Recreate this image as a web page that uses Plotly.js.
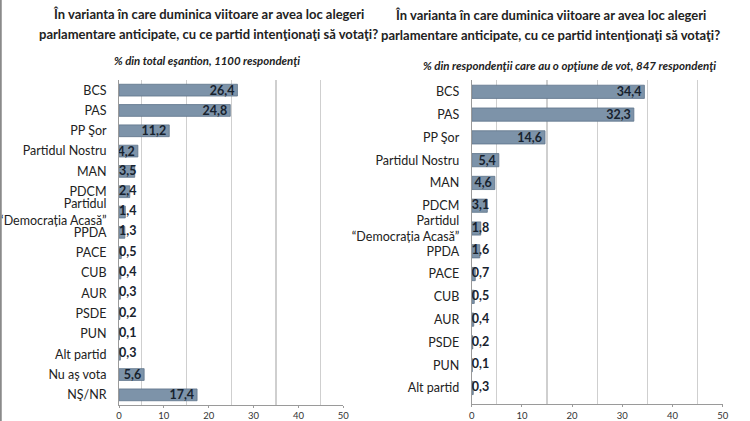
<!DOCTYPE html>
<html>
<head>
<meta charset="utf-8">
<script src="https://cdn.plot.ly/plotly-3.0.1.min.js"></script>
<style>
  html, body { margin: 0; padding: 0; background: #fff; }
  #chart { width: 750px; height: 421px; }
</style>
</head>
<body>
<div id="chart"></div>
<script>
// Data
const leftCategories = ['BCS', 'PAS', 'PP Şor', 'Partidul Nostru', 'MAN', 'PDCM',
  'Partidul<br>“Democrația Acasă”', 'PPDA', 'PACE', 'CUB', 'AUR', 'PSDE', 'PUN',
  'Alt partid', 'Nu aş vota', 'NŞ/NR'];
const leftValues = [26.4, 24.8, 11.2, 4.2, 3.5, 2.4, 1.4, 1.3, 0.5, 0.4, 0.3, 0.2, 0.1, 0.3, 5.6, 17.4];

const rightCategories = ['BCS', 'PAS', 'PP Şor', 'Partidul Nostru', 'MAN', 'PDCM',
  'Partidul<br>“Democrația Acasă”', 'PPDA', 'PACE', 'CUB', 'AUR', 'PSDE', 'PUN', 'Alt partid'];
const rightValues = [34.4, 32.3, 14.6, 5.4, 4.6, 3.1, 1.8, 1.6, 0.7, 0.5, 0.4, 0.2, 0.1, 0.3];

const xTicks = [0, 10, 20, 30, 40, 50];

const titleLines = ['În varianta în care duminica viitoare ar avea loc alegeri',
  'parlamentare anticipate, cu ce partid intenţionaţi să votaţi?'];
const leftSubtitle = '% din total eşantion, 1100 respondenţi';
const rightSubtitle = '% din respondenţii care au o opţiune de vot, 847 respondenţi';

const FONT = 'Lato, "Open Sans", sans-serif';
const BAR_COLOR = '#7d93a9';
const BAR_LINE = '#5e738a';
const TEXT_DARK = '#17222e';
const VALUE_FONT = { family: FONT, size: 12.5, color: TEXT_DARK, weight: 'bold' };
const FIT_MIN = 4;   // below this the label doesn't fit in the bar

function barTrace(cats, vals, xa, ya) {
    return {
        type: 'bar',
        orientation: 'h',
        y: cats,
        x: vals,
        xaxis: xa,
        yaxis: ya,
        marker: { color: BAR_COLOR, line: { color: BAR_LINE, width: 0.8 } },
        texttemplate: '%{x:.1f}',
        textposition: vals.map(v => v >= FIT_MIN ? 'inside' : 'none'),
        insidetextanchor: 'end',
        constraintext: 'none',
        textfont: VALUE_FONT,
        insidetextfont: VALUE_FONT,
        hoverinfo: 'skip'
    };
}

// labels of short bars start at the bar base, like in the original
function baseLabelTrace(cats, vals, xa, ya) {
    const idx = vals.map((v, i) => i).filter(i => vals[i] < FIT_MIN);
    return {
        type: 'scatter',
        mode: 'text',
        y: idx.map(i => cats[i]),
        x: idx.map(() => 0),
        customdata: idx.map(i => vals[i]),
        texttemplate: '%{customdata:.1f}',
        textposition: 'middle right',
        textfont: VALUE_FONT,
        xaxis: xa,
        yaxis: ya,
        cliponaxis: false,
        hoverinfo: 'skip'
    };
}

function xAxis(domain, anchor) {
    return {
        domain: domain,
        anchor: anchor,
        range: [0, 50],
        tickvals: xTicks,
        ticks: 'outside',
        ticklen: 2,
        tickcolor: '#9a9a9a',
        showgrid: false,
        zeroline: false,
        showline: true,
        linecolor: '#9a9a9a',
        linewidth: 1,
        tickfont: { family: FONT, size: 9.5, color: '#333' },
        minor: { tick0: 5, dtick: 10, showgrid: true, gridcolor: '#cfcfcf', gridwidth: 1.2, ticks: '' },
        fixedrange: true
    };
}

function yAxis(domain, anchor) {
    return {
        domain: domain,
        anchor: anchor,
        type: 'category',
        autorange: 'reversed',
        showgrid: false,
        zeroline: false,
        showline: true,
        linecolor: '#9a9a9a',
        linewidth: 1,
        ticks: '',
        ticklabelstandoff: 9,
        tickfont: { family: FONT, size: 12.5, color: '#222' },
        fixedrange: true
    };
}

const data = [
    barTrace(leftCategories, leftValues, 'x', 'y'),
    baseLabelTrace(leftCategories, leftValues, 'x', 'y'),
    barTrace(rightCategories, rightValues, 'x2', 'y2'),
    baseLabelTrace(rightCategories, rightValues, 'x2', 'y2')
];

const annotations = [];
titleLines.forEach((line, i) => {
    [[208, 14], [550, 15]].forEach(([cx, cy]) => {
        annotations.push({
            text: line, xref: 'paper', yref: 'paper', x: cx / 750, y: 1 - (cy + i * 20) / 421,
            xanchor: 'center', yanchor: 'middle', showarrow: false,
            font: { family: FONT, size: 13, color: '#222', weight: 'bold' }
        });
    });
});
annotations.push(
    { text: leftSubtitle, xref: 'paper', yref: 'paper', x: 207 / 750, y: 1 - 60 / 421,
      xanchor: 'center', yanchor: 'middle', showarrow: false,
      font: { family: FONT, size: 11.4, color: '#222', weight: 'bold', style: 'italic' } },
    { text: rightSubtitle, xref: 'paper', yref: 'paper', x: 569 / 750, y: 1 - 66 / 421,
      xanchor: 'center', yanchor: 'middle', showarrow: false,
      font: { family: FONT, size: 11.5, color: '#222', weight: 'bold', style: 'italic' } }
);

const layout = {
    width: 750,
    height: 421,
    margin: { t: 0, b: 0, l: 0, r: 0 },
    paper_bgcolor: '#fff',
    plot_bgcolor: 'rgba(0,0,0,0)',
    showlegend: false,
    separators: ',.',
    bargap: 0.42,
    font: { family: FONT },
    xaxis: xAxis([0.1587, 0.4577], 'y'),
    yaxis: yAxis([0.038, 0.81], 'x'),
    xaxis2: xAxis([0.629, 0.9636], 'y2'),
    yaxis2: yAxis([0.04, 0.809], 'x2'),
    annotations: annotations,
    shapes: [
        { type: 'line', xref: 'paper', yref: 'paper', x0: 0.001, x1: 0.001, y0: 0, y1: 1,
          line: { color: '#8a8a8a', width: 2 } }
    ]
};

Plotly.newPlot('chart', data, layout, { displayModeBar: false, staticPlot: true });
</script>
</body>
</html>
